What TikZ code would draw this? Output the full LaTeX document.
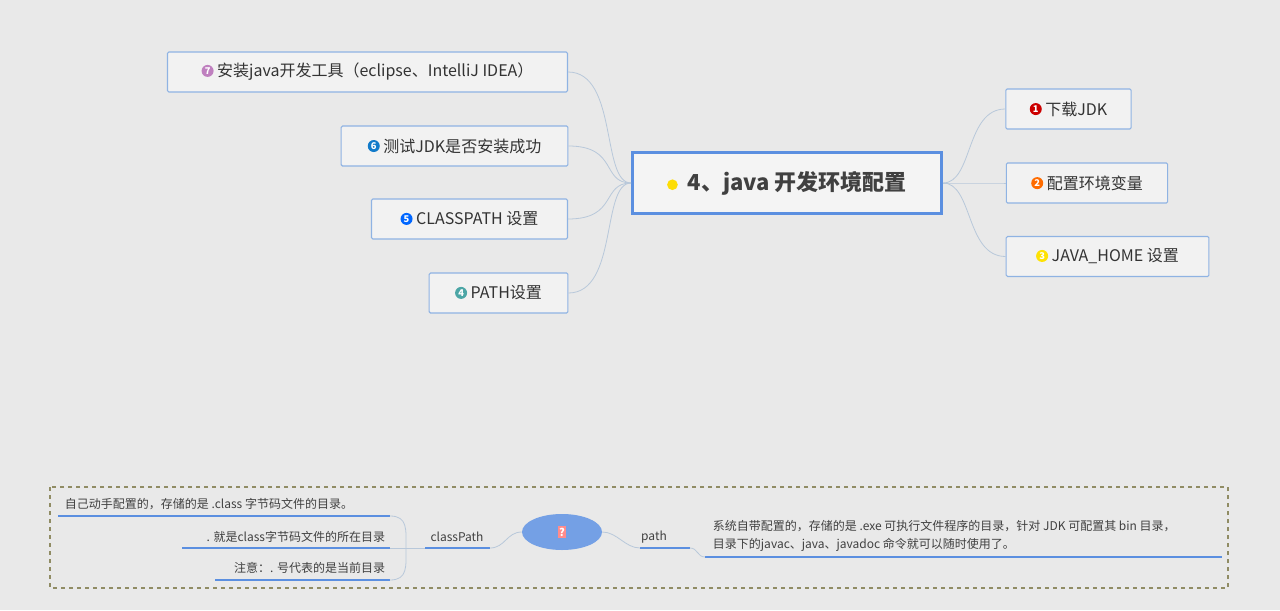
\documentclass[tikz,border=0pt]{standalone}
\usepackage{fontspec}
\setmainfont{Noto Sans CJK SC}
\usetikzlibrary{positioning,shapes}

\definecolor{bgc}{HTML}{E9E9E9}
\definecolor{boxline}{HTML}{8FB3E3}
\definecolor{linkc}{HTML}{B8C8DA}
\definecolor{mainline}{HTML}{5B8FE0}
\tikzset{
  topic/.style={draw=boxline,fill=bgc!60!white,rounded corners=1pt,line width=0.8pt,
    minimum height=30pt,inner xsep=6pt,font=\fontsize{12}{14}\selectfont,text=black!80},
  num/.style={circle,inner sep=0pt,minimum size=9pt,fill=#1,text=white,font=\fontsize{7}{7}\selectfont\bfseries},
  link/.style={draw=linkc,line width=0.6pt},
  note/.style={font=\fontsize{9}{13}\selectfont,text=black!75,inner sep=2pt},
  uline/.style={draw=mainline,line width=1.2pt}
}

\begin{document}
\begin{tikzpicture}[x=0.75pt,y=-0.75pt]
    \useasboundingbox[fill=bgc] (0,0) rectangle (1280,610);

    % central topic
    \node[draw=mainline,line width=2pt,fill=bgc!50!white,minimum width=232pt,minimum height=46pt,
      font=\fontsize{16.5}{18}\selectfont\bfseries,text=black!75] (root) at (787,183)
      {\tikz\node[circle,fill=yellow!80!orange,minimum size=8pt,inner sep=0pt]{};\ \ 4、java 开发环境配置};

    % right side
    \node[topic,minimum width=94pt] (jdk) at (1068.5,109) {\tikz\node[num=red!80!black]{1};\ 下载JDK};
    \node[topic,minimum width=121pt] (env) at (1087,183) {\tikz\node[num=orange!85!red]{2};\ 配置环境变量};
    \node[topic,minimum width=152pt] (home) at (1107.5,256.5) {\tikz\node[num=yellow!85!orange]{3};\ JAVA\_HOME 设置};

    % left side
    \node[topic,minimum width=300pt] (ide) at (367.5,72) {\tikz\node[num=violet!50]{7};\ 安装java开发工具（eclipse、IntelliJ IDEA）};
    \node[topic,minimum width=170pt] (test) at (454.5,146) {\tikz\node[num=cyan!60!blue]{6};\ 测试JDK是否安装成功};
    \node[topic,minimum width=147pt] (cp) at (469.5,219) {\tikz\node[num=blue!60!cyan]{5};\ CLASSPATH 设置};
    \node[topic,minimum width=104pt] (path) at (498.5,293) {\tikz\node[num=teal!70]{4};\ PATH设置};

    \foreach \n in {jdk,env,home}
      \draw[link] (root.east) .. controls +(30,0) and +(-40,0) .. (\n.west);
    \foreach \n in {ide,test,cp,path}
      \draw[link] (root.west) .. controls +(-30,0) and +(50,0) .. (\n.east);

    % bottom summary
    \draw[draw=gray!70!olive,dashed,line width=0.8pt] (50,487) rectangle (1228,588);
    \node[ellipse,fill=mainline!85!white,minimum width=60pt,minimum height=27pt] (q) at (562,532) {};
    \node[fill=red!45,text=white,inner sep=1pt,font=\fontsize{8}{8}\selectfont\bfseries] at (q) {?};

    \node[note] (pl) at (654,537) {path};
    \draw[uline] (640,548) -- (690,548);
    \node[note,anchor=west,align=left] (pt) at (710,536)
      {系统自带配置的，存储的是 .exe 可执行文件程序的目录，针对 JDK 可配置其 bin 目录，\\目录下的javac、java、javadoc 命令就可以随时使用了。};
    \draw[uline] (705,557) -- (1222,557);
    \draw[link] (q.east) .. controls +(15,0) and +(-15,0) .. (640,548);
    \draw[link] (690,548) .. controls +(8,0) and +(-8,0) .. (705,557);

    \node[note] (cl) at (457,537) {classPath};
    \draw[uline] (425,548) -- (490,548);
    \draw[link] (q.west) .. controls +(-15,0) and +(15,0) .. (490,548);

    \node[note,anchor=west] (c1) at (62,504) {自己动手配置的，存储的是 .class 字节码文件的目录。};
    \draw[uline] (58,516) -- (390,516);
    \node[note,anchor=east] (c2) at (388,537) {. 就是class字节码文件的所在目录};
    \draw[uline] (182,548) -- (390,548);
    \node[note,anchor=east] (c3) at (388,568) {注意：. 号代表的是当前目录};
    \draw[uline] (215,580) -- (390,580);
    \draw[link] (390,516) .. controls (408,516) and (406,530) .. (406,548)
      .. controls (406,566) and (408,580) .. (390,580);
    \draw[link] (390,548) -- (425,548);
\end{tikzpicture}
\end{document}
